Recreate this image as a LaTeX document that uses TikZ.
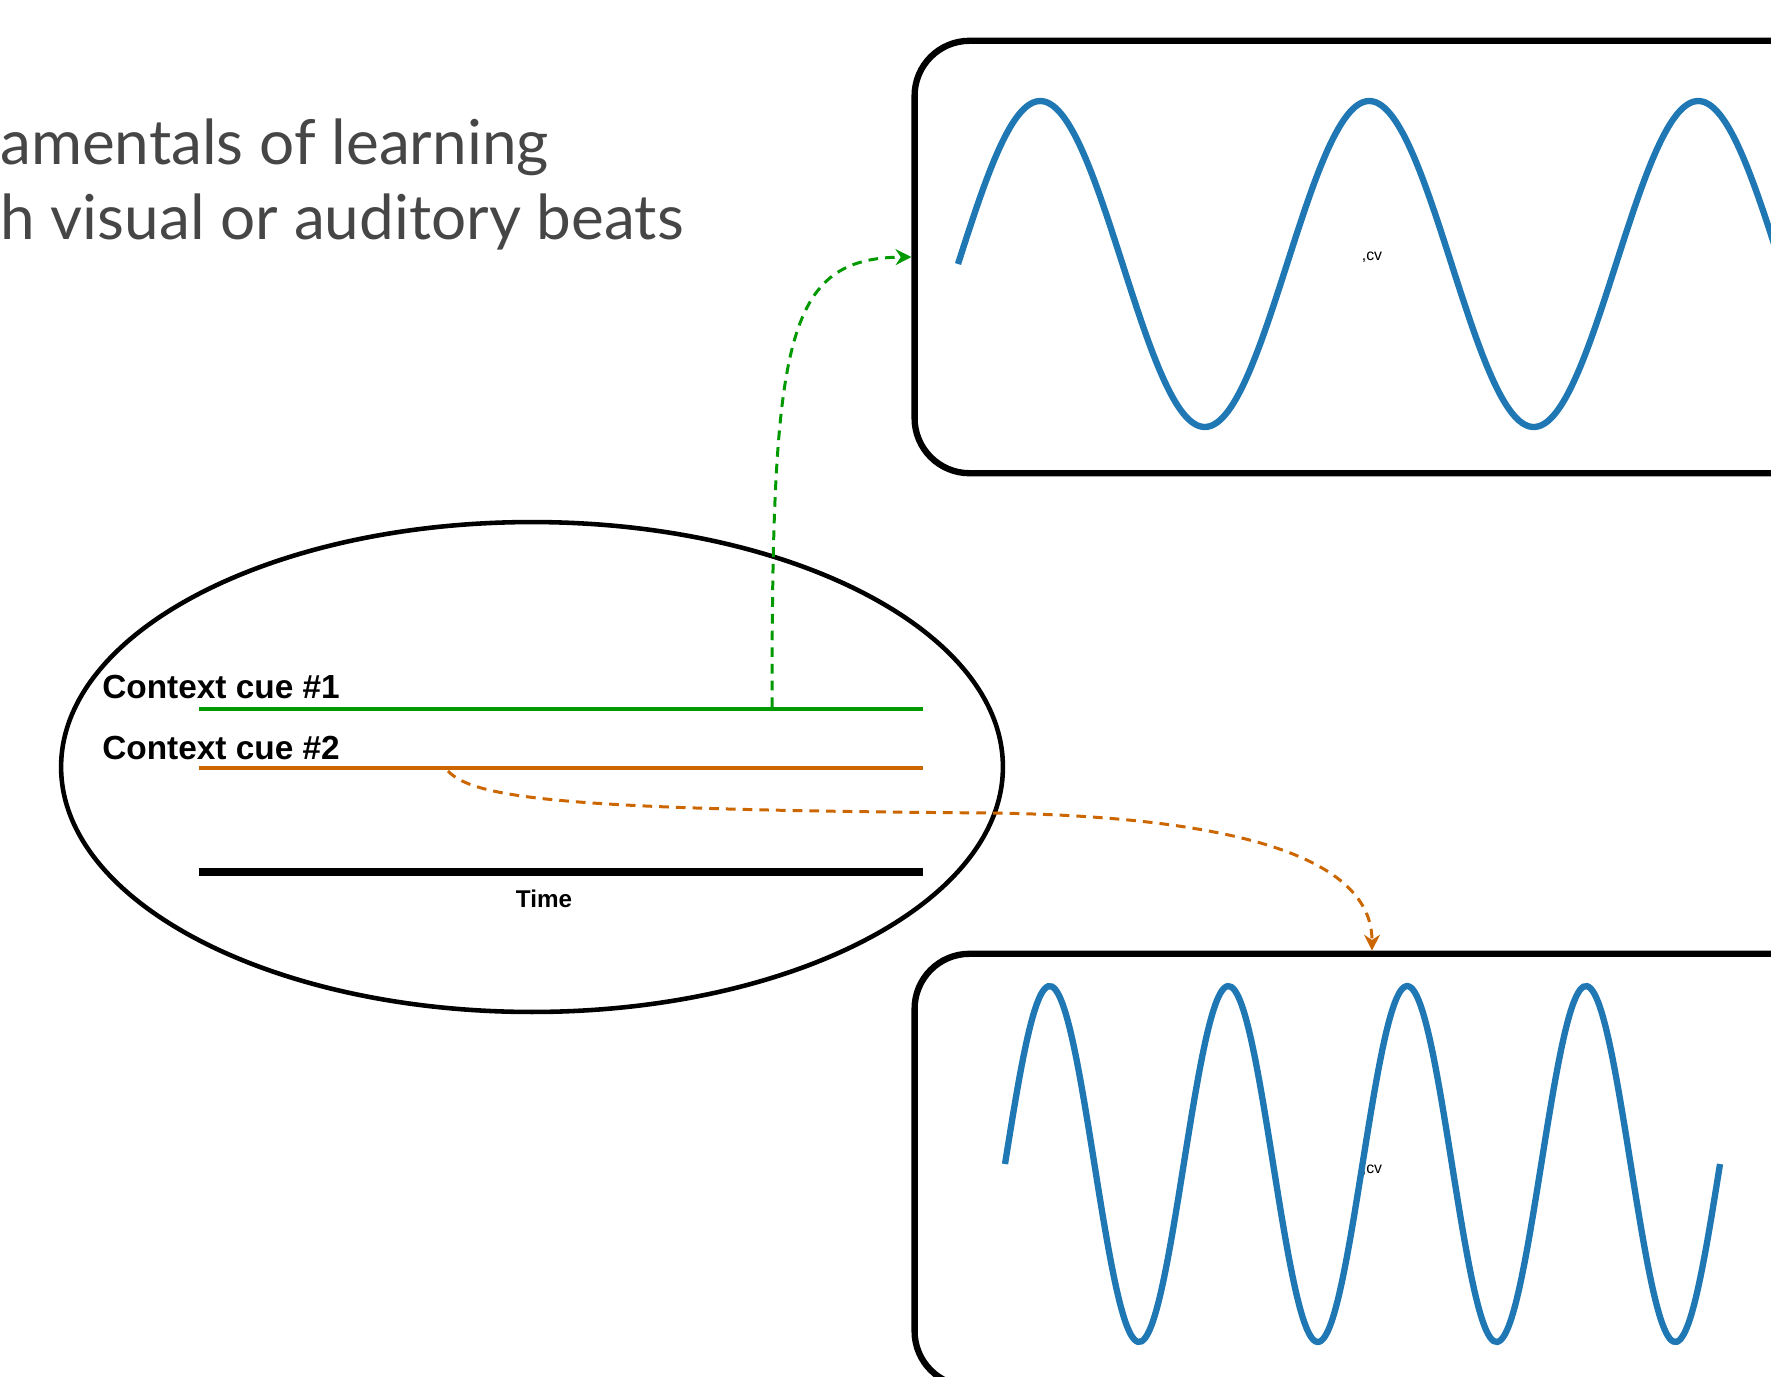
\documentclass[tikz,border=0pt]{standalone}
\usepackage{fontspec}
\setmainfont{Liberation Sans}
\newfontfamily\titlefont{Lato}
\usetikzlibrary{shapes.geometric,arrows.meta}

\definecolor{cuegreen}{RGB}{0,153,0}
\definecolor{cueorange}{RGB}{204,102,0}
\definecolor{waveblue}{RGB}{31,119,180}
\definecolor{titlegray}{RGB}{70,70,70}

\begin{document}
\begin{tikzpicture}[x=0.02cm,y=-0.02cm,
  panel/.style={draw,line width=3.6pt,rounded corners=1.1cm,minimum width=18.3cm,minimum height=8.65cm,font=\fontsize{9}{10}\selectfont},
  wave/.style={waveblue,line width=3.6pt},
  cuelabel/.style={anchor=west,inner sep=0pt,font=\fontsize{19}{22}\selectfont\bfseries},
  link/.style={dash pattern=on 5.5pt off 4pt,line width=1.7pt,-{Stealth[length=9pt,width=9pt]}}]
\useasboundingbox (0,0) rectangle (1771,1376);

% heading, cut at the left edge
\node[anchor=base west,inner sep=0pt,titlegray,font=\titlefont\fontsize{35.3}{40}\selectfont] (title1) at (0,164) {amentals of learning};
\node[anchor=base west,inner sep=0pt,titlegray,font=\titlefont\fontsize{35.3}{40}\selectfont] (title2) at (0,239) {h visual or auditory beats};

% the two beat panels
\node[panel] (slow) at (1372,257) {,cv};
\node[panel] (fast) at (1372,1170) {,cv};
\draw[wave] plot[smooth,samples=160,domain=958:1800] (\x,{264-163*sin((\x-958)/329*360)});
\draw[wave] plot[smooth,samples=200,domain=1005:1720] (\x,{1164-178*sin((\x-1005)/178.75*360)});

% context cues on the time axis
\node[ellipse,draw,line width=2.6pt,minimum width=18.84cm,minimum height=9.8cm] (cues) at (532,767) {};
\coordinate (g0) at (199,709);
\coordinate (g1) at (923,709);
\coordinate (o0) at (199,768);
\coordinate (o1) at (923,768);
\coordinate (t0) at (199,872);
\coordinate (t1) at (923,872);
\draw[cuegreen,line width=2.3pt] (g0) -- (g1);
\draw[cueorange,line width=2.3pt] (o0) -- (o1);
\draw[line width=4pt] (t0) -- (t1);
\node[cuelabel] (cue1) at (102,687) {Context cue \#1};
\node[cuelabel] (cue2) at (102,748) {Context cue \#2};
\node[font=\fontsize{13.8}{16}\selectfont\bfseries] (time) at (544,899) {Time};

% links to the panels
\coordinate (gstart) at (772,707);
\coordinate (ostart) at (448,771);
\coordinate (omid) at (994,813);
\draw[link,cuegreen] (gstart) .. controls (772,340) and (785,258) .. (slow.west);
\draw[link,cueorange] (ostart) .. controls (475,800) and (580,810) .. (omid)
  .. controls (1300,818) and (1372,880) .. (fast.north);
\end{tikzpicture}
\end{document}
